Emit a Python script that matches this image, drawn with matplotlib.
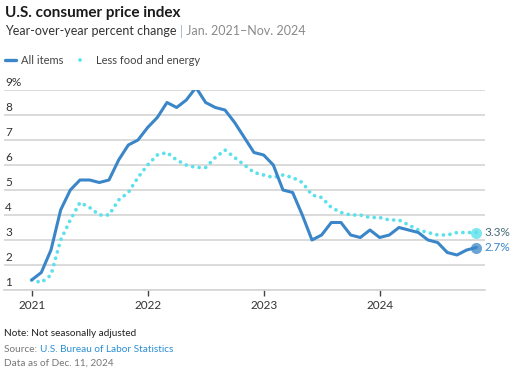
import matplotlib
matplotlib.use('Agg')
import matplotlib.pyplot as plt
import numpy as np

# monthly year-over-year % change, Jan 2021 - Nov 2024
all_items = [1.4, 1.7, 2.6, 4.2, 5.0, 5.4, 5.4, 5.3, 5.4, 6.2, 6.8, 7.0,
             7.5, 7.9, 8.5, 8.3, 8.6, 9.1, 8.5, 8.3, 8.2, 7.7, 7.1, 6.5,
             6.4, 6.0, 5.0, 4.9, 4.0, 3.0, 3.2, 3.7, 3.7, 3.2, 3.1, 3.4,
             3.1, 3.2, 3.5, 3.4, 3.3, 3.0, 2.9, 2.5, 2.4, 2.6, 2.7]
core = [1.4, 1.3, 1.6, 3.0, 3.8, 4.5, 4.3, 4.0, 4.0, 4.6, 4.9, 5.5,
        6.0, 6.4, 6.5, 6.2, 6.0, 5.9, 5.9, 6.3, 6.6, 6.3, 6.0, 5.7,
        5.6, 5.5, 5.6, 5.5, 5.3, 4.8, 4.7, 4.3, 4.1, 4.0, 4.0, 3.9,
        3.9, 3.8, 3.8, 3.6, 3.4, 3.3, 3.2, 3.2, 3.3, 3.3, 3.3]
year_labels = ['2021', '2022', '2023', '2024']
year_ticks = [0, 12, 24, 36]
y_ticks = [1, 2, 3, 4, 5, 6, 7, 8, 9]

BLUE = '#3a86c8'
CYAN = '#5ce1eb'
DOTS = (0, (0.01, 1.75))

plt.rcParams['font.family'] = ['Lato', 'DejaVu Sans']

fig = plt.figure(figsize=(5.22, 3.78), dpi=100)
ax = fig.add_axes([4 / 522, 88 / 378, 481 / 522, 200 / 378])

months = np.arange(len(all_items))
ax.plot(months, core, color=CYAN, lw=2.7, linestyle=DOTS,
        dash_capstyle='round', zorder=3)
ax.plot(months, all_items, color=BLUE, lw=2.2, solid_joinstyle='round',
        solid_capstyle='round', zorder=4)
ax.plot(months[-1], core[-1], 'o', ms=8, color=CYAN, alpha=0.8, mec='none', zorder=5)
ax.plot(months[-1], all_items[-1], 'o', ms=8, color=BLUE, alpha=0.75, mec='none', zorder=5)

ax.set_xlim(-2.86, 46.9)
ax.set_ylim(1, 9)

for s in ['top', 'right', 'left']:
    ax.spines[s].set_visible(False)
ax.spines['bottom'].set_color('#d4d4d4')
ax.spines['bottom'].set_linewidth(1.2)

ax.set_yticks(y_ticks)
ax.tick_params(axis='y', length=0, labelleft=False)
ax.grid(axis='y', color='#d4d4d4', lw=1.2)
ax.set_axisbelow(True)

ax.set_xticks(year_ticks)
ax.set_xticklabels(year_labels)
ax.tick_params(axis='x', length=4, width=1, color='#444444', pad=3,
               labelsize=8.5, labelcolor='#333333')

for v in y_ticks:
    lab = f'{v}%' if v == 9 else str(v)
    ax.annotate(lab, xy=(0, v), xycoords=('axes fraction', 'data'),
                xytext=(1, 1.5), textcoords='offset points',
                ha='left', va='bottom', fontsize=8.5, color='#333333')

# end labels
ax.annotate(f'{core[-1]}%', xy=(months[-1], core[-1]), xytext=(6, 0),
            textcoords='offset points', va='center', ha='left',
            fontsize=8.5, color='#456b78', annotation_clip=False)
ax.annotate(f'{all_items[-1]}%', xy=(months[-1], all_items[-1]), xytext=(6, 0),
            textcoords='offset points', va='center', ha='left',
            fontsize=8.5, color=BLUE, annotation_clip=False)

# header
fig.text(5 / 522, 1 - 13 / 378, 'U.S. consumer price index', fontsize=11,
         fontweight='bold', color='#1a1a1a', va='center', ha='left')

renderer = fig.canvas.get_renderer()


def run_text(x, y, parts, size):
    # place several differently coloured strings one after another
    for s, c in parts:
        t = fig.text(x, y, s, fontsize=size, color=c, va='center', ha='left')
        bb = t.get_window_extent(renderer)
        x += bb.width / fig.bbox.width


run_text(5 / 522, 1 - 31 / 378,
         [('Year-over-year percent change ', '#333333'), ('|', '#9fb7cc'),
          (' Jan. 2021\u2013Nov. 2024', '#8a8a8a')], 9)

# legend
ly = 1 - 60 / 378
fig.add_artist(plt.Line2D([5 / 522, 16 / 522], [ly, ly], color=BLUE, lw=2.4,
                          solid_capstyle='round'))
fig.text(21 / 522, ly, 'All items', fontsize=8, color='#444444', va='center')
fig.add_artist(plt.Line2D([80 / 522, 86 / 522], [ly, ly], color=CYAN, lw=2.7,
                          linestyle=DOTS, dash_capstyle='round'))
fig.text(96 / 522, ly, 'Less food and energy', fontsize=8, color='#444444', va='center')

# footer
fig.text(4 / 522, 1 - 334 / 378, 'Note: Not seasonally adjusted', fontsize=7.2,
         color='#222222', va='center')
run_text(4 / 522, 1 - 350 / 378,
         [('Source: ', '#777777'), ('U.S. Bureau of Labor Statistics', '#2b8fd4')], 7.2)
fig.text(4 / 522, 1 - 363 / 378, 'Data as of Dec. 11, 2024', fontsize=7.2,
         color='#777777', va='center')

fig.savefig('out.png', dpi=100)
